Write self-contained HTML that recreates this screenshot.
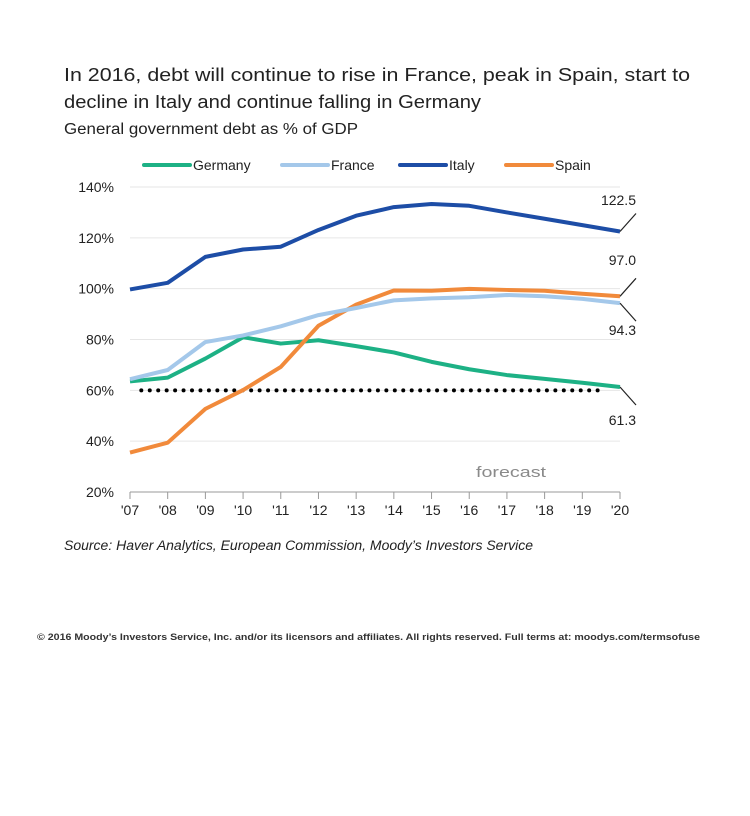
<!DOCTYPE html>
<html><head><meta charset="utf-8"><style>
html,body{margin:0;padding:0;background:#fff;width:750px;height:816px;overflow:hidden}
svg text{font-family:"Liberation Sans",sans-serif;fill:#222}
</style></head><body>
<svg id="chart" width="750" height="816" viewBox="0 0 750 816" xmlns="http://www.w3.org/2000/svg">
<text x="64" y="81" font-size="18" textLength="626" lengthAdjust="spacingAndGlyphs">In 2016, debt will continue to rise in France, peak in Spain, start to</text>
<text x="64" y="108" font-size="18" textLength="417" lengthAdjust="spacingAndGlyphs">decline in Italy and continue falling in Germany</text>
<text x="64" y="134" font-size="15.5" textLength="294" lengthAdjust="spacingAndGlyphs">General government debt as % of GDP</text>
<g id="legend"></g>
<g id="grid"></g>
<g id="axes"></g>
<g id="series"></g>
<text x="476" y="477" font-size="15" style="fill:#8a8a8a" textLength="70" lengthAdjust="spacingAndGlyphs">forecast</text>
<text x="64" y="550" font-size="13.5" font-style="italic" textLength="469" lengthAdjust="spacingAndGlyphs">Source: Haver Analytics, European Commission, Moody’s Investors Service</text>
<text x="37" y="640" font-size="9.5" font-weight="bold" style="fill:#333" textLength="663" lengthAdjust="spacingAndGlyphs">© 2016 Moody’s Investors Service, Inc. and/or its licensors and affiliates. All rights reserved. Full terms at: moodys.com/termsofuse</text>
</svg>
<script>
const years = ["'07","'08","'09","'10","'11","'12","'13","'14","'15","'16","'17","'18","'19","'20"];
const yTicks = [20,40,60,80,100,120,140];
const italy = [99.7,102.3,112.5,115.4,116.5,123.1,128.7,132.1,133.3,132.6,130.0,127.5,125.0,122.5];
const france = [64.4,68.0,79.0,81.6,85.2,89.6,92.4,95.4,96.2,96.6,97.5,97.0,96.0,94.3];
const germany = [63.5,65.0,72.5,80.9,78.4,79.7,77.4,74.9,71.2,68.3,66.0,64.5,63.0,61.3];
const spain = [35.5,39.4,52.7,60.1,69.2,85.4,93.7,99.3,99.2,99.9,99.5,99.2,98.0,97.0];
const threshold = 60;
const endLabels = ["122.5","97.0","94.3","61.3"];

const NS="http://www.w3.org/2000/svg";
const X0=130,X1=620,Y0=492,Y1=187,VMIN=20,VMAX=140;
const xs=i=>X0+(X1-X0)*i/(years.length-1);
const ys=v=>Y0-(Y0-Y1)*(v-VMIN)/(VMAX-VMIN);
function mk(tag,attrs,parent){const e=document.createElementNS(NS,tag);for(const k in attrs)e.setAttribute(k,attrs[k]);parent.appendChild(e);return e;}
const grid=document.getElementById('grid'),axes=document.getElementById('axes'),series=document.getElementById('series'),legend=document.getElementById('legend');
yTicks.forEach(v=>{
  if(v>VMIN){const l=mk('line',{x1:X0,x2:X1,y1:ys(v),y2:ys(v),stroke:'#e6e6e6','stroke-width':1},grid);
  
  }
  const t=mk('text',{x:114,y:ys(v)+5,'text-anchor':'end','font-size':14},axes);t.textContent=v+'%';
  
  
});
const ax=mk('line',{x1:X0,x2:X1,y1:Y0,y2:Y0,stroke:'#999','stroke-width':1},axes);


years.forEach((y,i)=>{
  const tk=mk('line',{x1:xs(i),x2:xs(i),y1:Y0,y2:Y0+7,stroke:'#999'},axes);
  
  
  const t=mk('text',{x:xs(i),y:Y0+23,'text-anchor':'middle','font-size':14},axes);t.textContent=y;
  
  
});
// threshold dots
const dl=mk('line',{x1:xs(0.3),x2:xs(12.5),y1:ys(threshold),y2:ys(threshold),stroke:'#000','stroke-width':4,'stroke-linecap':'round','stroke-dasharray':'0 8.45'},series);


const defs=[["germany",germany,"#1db185","Germany",144],["france",france,"#a4c8ea","France",282],["italy",italy,"#1d4da6","Italy",400],["spain",spain,"#f18a3b","Spain",506]];
const order=[defs[3],defs[0],defs[1],defs[2]];
[defs[0],defs[3],defs[1],defs[2]].forEach(d=>{
  const p=mk('polyline',{points:d[1].map((v,i)=>xs(i)+','+ys(v)).join(' '),fill:'none',stroke:d[2],'stroke-width':4,'stroke-linejoin':'round'},series);
  
  
});
defs.forEach(d=>{
  const l=mk('line',{x1:d[4],x2:d[4]+46,y1:165,y2:165,stroke:d[2],'stroke-width':4,'stroke-linecap':'round'},legend);
  
  
  const t=mk('text',{x:d[4]+49,y:170,'font-size':14},legend);t.textContent=d[3];
  
  
});
// end labels with leaders
const ends=[[italy,-1,endLabels[0],205],[spain,-1,endLabels[1],265],[france,1,endLabels[2],335],[germany,1,endLabels[3],425]];
ends.forEach(e=>{
  const v=e[0][e[0].length-1],px=xs(years.length-1),py=ys(v);
  const ly=py+e[1]*18;
  const l=mk('line',{x1:px,y1:py,x2:px+16,y2:ly,stroke:'#222','stroke-width':1.2},series);
  
  
  const t=mk('text',{x:636,y:e[3],'text-anchor':'end','font-size':14},series);t.textContent=e[2];
  
  
});
</script>
</body></html>
